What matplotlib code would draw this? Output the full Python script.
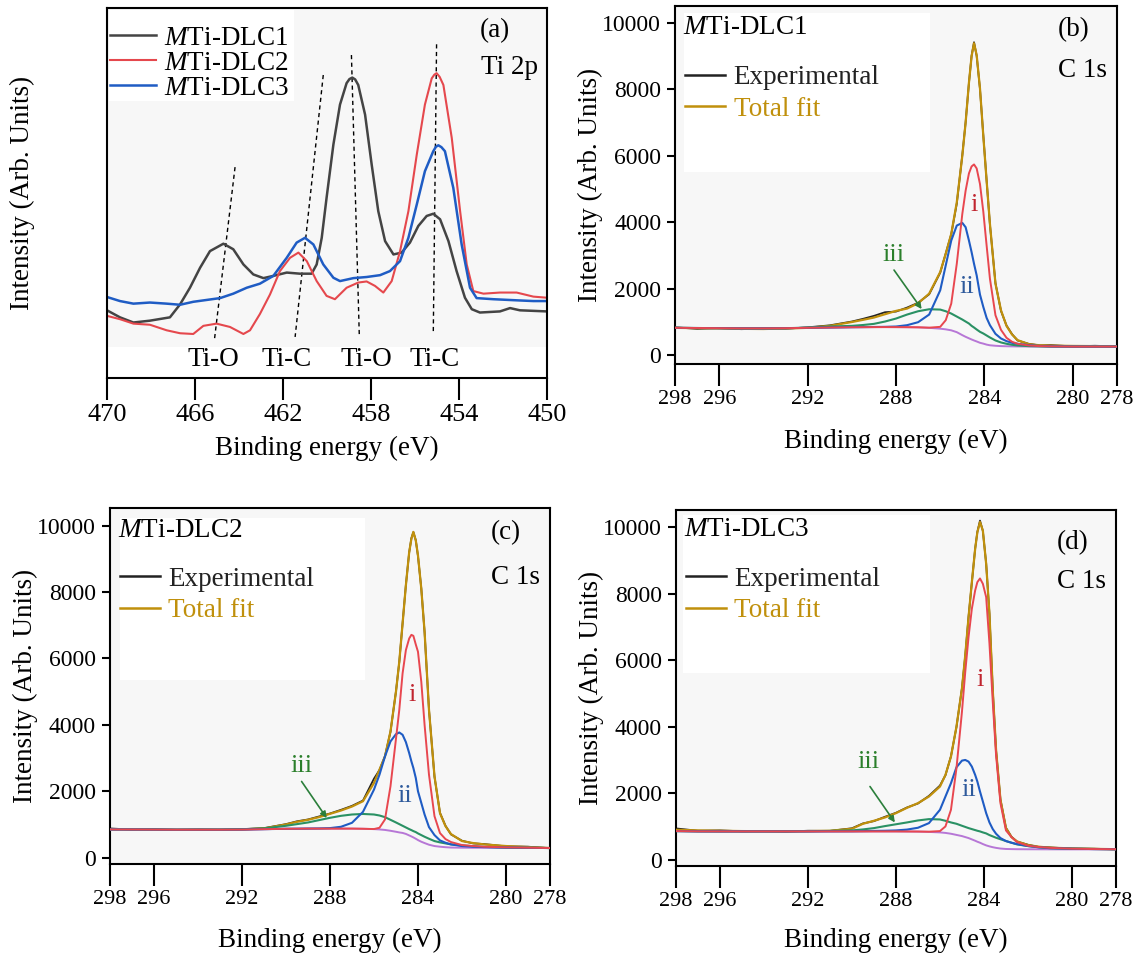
import matplotlib
matplotlib.use("Agg")
import matplotlib.pyplot as plt
from matplotlib.patches import Rectangle

plt.rcParams["font.family"] = "Liberation Serif"
plt.rcParams["mathtext.fontset"] = "custom"
plt.rcParams["mathtext.it"] = "Liberation Serif:italic"
plt.rcParams["mathtext.rm"] = "Liberation Serif"

# ---------------- panel (a): Ti 2p spectra (arb. units, 0-100) ----------------
ti_dlc1_energy = [470.0, 469.41, 468.8, 468.05, 467.14, 466.68, 466.23, 465.77, 465.32, 464.71,
                  464.26, 463.8, 463.35, 462.89, 462.44, 461.83, 461.23, 460.7, 460.47, 460.24,
                  460.02, 459.71, 459.41, 459.11, 458.98, 458.85, 458.72, 458.58, 458.27, 457.97,
                  457.67, 457.36, 456.98, 456.61, 456.23, 455.85, 455.47, 455.17, 454.86, 454.48,
                  454.11, 453.73, 453.42, 453.05, 452.14, 451.68, 451.23, 450.0]
ti_dlc1_int = [18.3, 16.4, 15.0, 15.5, 16.4, 19.9, 24.4, 29.8, 34.3, 36.3,
               34.8, 30.7, 28.0, 27.0, 27.6, 28.5, 28.2, 28.2, 30.7, 37.9,
               48.7, 63.1, 73.9, 79.7, 80.8, 81.2, 80.7, 79.2, 71.2, 57.7,
               45.1, 37.0, 33.4, 33.9, 36.6, 41.1, 43.8, 44.4, 42.9, 37.0,
               28.9, 21.7, 18.6, 17.7, 18.0, 18.9, 18.3, 18.0]

ti_dlc2_energy = [470.0, 469.41, 468.8, 468.05, 467.29, 466.68, 466.08, 465.62, 465.02, 464.41,
                  463.8, 463.5, 463.05, 462.59, 462.14, 461.68, 461.3, 460.92, 460.47, 460.02,
                  459.64, 459.11, 458.58, 458.2, 457.82, 457.44, 457.06, 456.68, 456.3, 455.92,
                  455.55, 455.24, 455.12, 455.02, 454.88, 454.71, 454.33, 453.95, 453.65, 453.35,
                  452.89, 452.14, 451.38, 450.62, 450.0]
ti_dlc2_int = [16.8, 15.9, 14.7, 14.4, 12.9, 12.1, 11.9, 14.1, 14.7, 13.8,
               11.9, 12.9, 17.3, 22.6, 28.9, 32.5, 33.9, 31.6, 26.2, 22.2,
               21.3, 24.4, 25.8, 26.1, 24.9, 23.1, 26.2, 34.3, 45.1, 60.4,
               73.9, 81.0, 82.0, 82.4, 81.4, 79.2, 64.9, 45.1, 30.7, 23.5,
               22.8, 23.1, 23.1, 22.0, 21.7]

ti_dlc3_energy = [470.0, 469.41, 468.8, 468.05, 467.29, 466.68, 466.08, 465.47, 464.86, 464.26,
                  463.65, 463.05, 462.44, 461.83, 461.38, 461.0, 460.62, 460.17, 459.71, 459.41,
                  458.8, 458.2, 457.59, 457.14, 456.68, 456.3, 455.92, 455.55, 455.17, 455.05,
                  454.94, 454.8, 454.64, 454.26, 453.88, 453.5, 453.2, 452.44, 451.38, 450.62,
                  450.0]
ti_dlc3_int = [21.9, 20.8, 20.1, 20.4, 20.1, 19.8, 20.6, 21.1, 21.6, 22.8,
               24.4, 25.5, 27.6, 32.5, 36.6, 37.9, 36.1, 30.7, 27.1, 26.2,
               27.0, 27.3, 27.8, 28.9, 31.6, 37.9, 46.9, 55.9, 61.3, 62.5,
               62.9, 62.4, 61.3, 51.4, 36.1, 24.4, 21.6, 21.3, 21.0, 20.8,
               20.8]

# dashed guide lines: (top energy, top intensity, bottom energy, bottom intensity)
guide_top_energy = [464.18, 460.17, 458.89, 455.02]
guide_top_int = [57.0, 81.9, 87.3, 90.2]
guide_bottom_energy = [465.12, 461.45, 458.53, 455.17]
guide_bottom_int = [10.2, 11.1, 11.0, 11.9]

bond_labels = ["Ti-O", "Ti-C", "Ti-O", "Ti-C"]
bond_label_energy = [465.17, 461.83, 458.2, 455.1]

# ---------------- panel (b): MTi-DLC1 C 1s ----------------
c1s_b_energy = [298, 297, 296, 295, 294, 293, 292, 291, 290, 289.5, 289, 288.5, 288, 287.5,
                287, 286.5, 286, 285.75, 285.5, 285.25, 285, 284.85, 284.7, 284.58, 284.47,
                284.35, 284.2, 284.05, 283.9, 283.75, 283.5, 283.25, 283, 282.75, 282.5,
                282, 281.5, 281, 280, 279, 278]
c1s_b_exp = [835, 790, 815, 780, 800, 795, 835, 895, 1010, 1090, 1180, 1290, 1310, 1430,
             1575, 1830, 2480, 3060, 3640, 4560, 6020, 7010, 8190, 9010, 9420, 9010, 8010,
             6620, 5260, 3930, 2170, 1330, 890, 630, 440, 340, 290, 300, 262, 280, 262]
c1s_b_fit = [820, 810, 800, 790, 785, 800, 820, 880, 995, 1060, 1130, 1230, 1330, 1400,
             1560, 1850, 2500, 3050, 3650, 4600, 6000, 7000, 8200, 9000, 9390, 9030, 8030,
             6600, 5250, 3950, 2150, 1350, 880, 620, 450, 330, 295, 285, 275, 270, 265]
c1s_b_i = [820, 815, 810, 805, 805, 810, 820, 830, 838, 840, 842, 843, 842, 840,
           836, 825, 850, 1050, 1550, 2750, 4250, 4950, 5470, 5680, 5740, 5620, 5150,
           4320, 3300, 2300, 1200, 760, 520, 400, 340, 290, 270, 262, 255, 255, 255]
c1s_b_ii = [820, 815, 810, 805, 805, 810, 820, 830, 840, 843, 846, 850, 860, 900,
            990, 1220, 1950, 2700, 3450, 3900, 3980, 3850, 3450, 3100, 2750, 2400, 1820,
            1450, 1120, 900, 640, 500, 420, 370, 340, 300, 275, 262, 255, 255, 255]
c1s_b_iii = [820, 815, 810, 805, 805, 810, 825, 860, 880, 905, 940, 1010, 1100, 1220,
             1320, 1380, 1370, 1320, 1250, 1160, 1070, 1010, 950, 880, 830, 770, 700,
             650, 590, 530, 440, 380, 340, 310, 290, 270, 262, 258, 255, 255, 255]
c1s_b_bg = [820, 815, 810, 805, 805, 810, 820, 830, 838, 840, 842, 843, 842, 840,
            835, 820, 795, 775, 745, 690, 600, 550, 505, 470, 440, 410, 370,
            345, 315, 295, 280, 270, 265, 262, 260, 258, 257, 256, 255, 255, 255]

# ---------------- panel (c): MTi-DLC2 C 1s ----------------
c1s_c_energy = [298, 297, 296, 295, 294, 293, 292, 291, 290, 289.5, 289, 288.5, 288, 287.5,
                287, 286.5, 286, 285.75, 285.5, 285.25, 285, 284.85, 284.7, 284.55, 284.4,
                284.3, 284.21, 284.1, 284, 283.85, 283.7, 283.5, 283.25, 283, 282.75, 282.5,
                282, 281.5, 281, 280, 279, 278]
c1s_c_exp = [880, 845, 860, 835, 850, 840, 860, 890, 1010, 1095, 1150, 1240, 1330, 1440,
             1560, 1720, 2380, 2640, 3060, 3790, 5010, 5890, 7060, 8210, 9190, 9620, 9800,
             9560, 9080, 8110, 6790, 4460, 2440, 1350, 960, 700, 510, 430, 410, 340, 330, 285]
c1s_c_fit = [860, 852, 848, 845, 845, 845, 850, 880, 1000, 1080, 1140, 1220, 1320, 1420,
             1540, 1700, 2250, 2650, 3050, 3800, 5000, 5900, 7050, 8200, 9200, 9600, 9810,
             9550, 9100, 8100, 6800, 4450, 2450, 1340, 950, 710, 500, 440, 400, 350, 320, 290]
c1s_c_i = [850, 848, 845, 842, 842, 842, 846, 858, 870, 872, 875, 875, 875, 875,
           875, 870, 862, 900, 1150, 2150, 3580, 4450, 5550, 6250, 6600, 6710, 6680,
           6420, 6200, 5300, 4000, 2500, 1250, 740, 560, 470, 380, 350, 330, 310, 300, 290]
c1s_c_ii = [850, 848, 845, 842, 842, 842, 846, 858, 870, 872, 876, 880, 890, 930,
            1050, 1380, 2050, 2500, 3050, 3500, 3720, 3770, 3700, 3480, 3150, 2900, 2700,
            2400, 2000, 1650, 1300, 920, 680, 520, 450, 400, 350, 330, 320, 305, 298, 290]
c1s_c_iii = [850, 848, 845, 842, 842, 845, 855, 880, 960, 1010, 1060, 1130, 1200, 1260,
             1300, 1316, 1300, 1270, 1220, 1140, 1060, 1010, 960, 910, 860, 830, 800,
             770, 730, 680, 630, 570, 500, 460, 430, 400, 370, 345, 325, 305, 298, 290]
c1s_c_bg = [850, 848, 845, 842, 842, 842, 846, 858, 870, 872, 875, 875, 875, 875,
            875, 870, 860, 850, 835, 810, 780, 760, 745, 715, 670, 640, 610,
            570, 530, 480, 440, 390, 350, 330, 315, 305, 300, 298, 296, 295, 292, 290]

# ---------------- panel (d): MTi-DLC3 C 1s ----------------
c1s_d_energy = [298, 297, 296, 295, 294, 293, 292, 291, 290, 289.5, 289, 288.5, 288, 287.5,
                287, 286.5, 286, 285.75, 285.5, 285.25, 285, 284.85, 284.7, 284.55, 284.4,
                284.3, 284.18, 284.05, 283.9, 283.75, 283.6, 283.45, 283.25, 283, 282.75,
                282.5, 282, 281.5, 281, 280, 279, 278]
c1s_d_exp = [940, 870, 880, 855, 860, 845, 870, 865, 945, 1090, 1160, 1290, 1410, 1570,
             1690, 1920, 2230, 2540, 3110, 3990, 5160, 6140, 7310, 8340, 9360, 9860, 10200,
             9890, 8910, 7390, 5110, 3290, 1810, 960, 690, 545, 450, 380, 370, 330, 330, 310]
c1s_d_fit = [900, 880, 870, 860, 855, 852, 860, 870, 930, 1080, 1170, 1270, 1400, 1560,
             1700, 1900, 2200, 2550, 3100, 4000, 5150, 6150, 7300, 8350, 9350, 9850, 10160,
             9900, 8900, 7400, 5100, 3300, 1800, 950, 680, 550, 440, 390, 360, 340, 325, 315]
c1s_d_i = [860, 852, 850, 850, 850, 850, 850, 850, 850, 850, 850, 850, 850, 848,
           846, 842, 860, 1000, 1500, 2750, 4450, 5650, 6700, 7550, 8100, 8350, 8460,
           8300, 7900, 6500, 4750, 3150, 1700, 880, 680, 530, 420, 380, 355, 330, 320, 315]
c1s_d_ii = [860, 852, 850, 850, 850, 850, 850, 852, 855, 860, 865, 870, 880, 905,
            960, 1100, 1500, 1900, 2300, 2780, 2980, 3000, 2950, 2800, 2550, 2350, 2050,
            1750, 1400, 1120, 920, 780, 650, 560, 510, 470, 410, 370, 350, 330, 320, 315]
c1s_d_iii = [860, 852, 850, 850, 850, 852, 856, 865, 880, 910, 950, 1010, 1065, 1120,
             1180, 1220, 1210, 1170, 1120, 1080, 1020, 985, 950, 920, 890, 870, 850,
             820, 790, 740, 700, 660, 615, 560, 510, 460, 410, 375, 345, 330, 320, 315]
c1s_d_bg = [860, 852, 850, 850, 850, 850, 850, 850, 850, 850, 850, 850, 850, 848,
            845, 835, 820, 805, 780, 745, 710, 680, 650, 610, 570, 540, 510,
            470, 430, 400, 375, 355, 335, 322, 318, 315, 313, 312, 311, 310, 310, 310]

c1s_xticks = [298, 296, 292, 288, 284, 280, 278]
c1s_yticks = [0, 2000, 4000, 6000, 8000, 10000]
ti_xticks = [470, 466, 462, 458, 454, 450]

BG_GRAY = "#f7f7f7"
GOLD = "#c0900c"
RED = "#e8474f"
BLUE = "#1f5cc4"
GREEN = "#2a9164"
PURPLE = "#b777d6"


def style_frame(ax):
    ax.set_facecolor(BG_GRAY)
    for spine in ax.spines.values():
        spine.set_linewidth(1.5)
    ax.tick_params(axis="x", direction="out", length=16, width=1.5, pad=3)
    ax.yaxis.set_label_coords(-0.163, 0.5)


def plot_c1s(ax, energy, exp, fit, comp_i, comp_ii, comp_iii, bg,
             sample, panel, ylim, white_box, text_y, title_y, legend_y,
             lab_i, lab_ii, lab_iii, arrow_from, arrow_to, xlabel_y):
    style_frame(ax)

    ax.add_patch(Rectangle(white_box[:2], white_box[2], white_box[3],
                           transform=ax.transAxes, facecolor="white",
                           edgecolor="none", zorder=0.5))

    ax.plot(energy, exp, color="#222222", lw=1.3, label="Experimental", zorder=2)
    ax.plot(energy, fit, color=GOLD, lw=1.6, label="Total fit", zorder=3)
    ax.plot(energy, bg, color=PURPLE, lw=1.4, zorder=4)
    ax.plot(energy, comp_iii, color=GREEN, lw=1.5, zorder=4)
    ax.plot(energy, comp_ii, color=BLUE, lw=1.5, zorder=4)
    ax.plot(energy, comp_i, color=RED, lw=1.4, zorder=4)

    ax.set_xlim(298, 278)
    ax.set_ylim(*ylim)
    ax.set_xticks(c1s_xticks)
    ax.set_yticks(c1s_yticks)
    ax.tick_params(axis="x", labelsize=16)
    ax.tick_params(axis="y", direction="out", length=6, width=1.5, pad=4, labelsize=17)

    ax.set_xlabel("Binding energy (eV)", fontsize=19.5)
    ax.xaxis.set_label_coords(0.5, xlabel_y)
    ax.set_ylabel("Intensity (Arb. Units)", fontsize=19.5)

    ax.text(0.018, title_y, r"$M$Ti-" + sample, transform=ax.transAxes,
            fontsize=19.5, va="center", ha="left")
    ax.text(0.866, text_y[0], panel, transform=ax.transAxes,
            fontsize=19.5, va="center", ha="left")
    ax.text(0.866, text_y[1], "C 1s", transform=ax.transAxes,
            fontsize=19.5, va="center", ha="left")

    leg = ax.legend(loc="upper left", bbox_to_anchor=(0.022, legend_y),
                    frameon=False, fontsize=19.5, handlelength=1.5,
                    handletextpad=0.3, borderpad=0, borderaxespad=0,
                    labelspacing=0.24, labelcolor="linecolor")
    for line in leg.get_lines():
        line.set_linewidth(1.8)

    ax.text(*lab_i, "i", color="#c0252f", fontsize=19, ha="center", va="center", zorder=5)
    ax.text(*lab_ii, "ii", color="#2e5a9c", fontsize=19, ha="center", va="center", zorder=5)
    ax.text(*lab_iii, "iii", color="#2b7f2b", fontsize=19, ha="center", va="center", zorder=5)
    ax.annotate("", xy=arrow_to, xytext=arrow_from,
                arrowprops=dict(arrowstyle="-|>", color="#2b7f3b", lw=1.2,
                                mutation_scale=9, shrinkA=0, shrinkB=0),
                zorder=6)


fig = plt.figure(figsize=(11.42, 9.57), dpi=100)

# ---------------- (a) ----------------
ax_a = fig.add_axes([0.0937, 0.6050, 0.3853, 0.3866])
style_frame(ax_a)
ax_a.add_patch(Rectangle((0.005, 0.75), 0.42, 0.245, transform=ax_a.transAxes,
                         facecolor="white", edgecolor="none", zorder=0.5))
ax_a.add_patch(Rectangle((0.0, 0.0), 1.0, 0.085, transform=ax_a.transAxes,
                         facecolor="white", edgecolor="none", zorder=0.5))

for i in range(len(guide_top_energy)):
    ax_a.plot([guide_top_energy[i], guide_bottom_energy[i]],
              [guide_top_int[i], guide_bottom_int[i]],
              color="black", lw=1.0, ls=(0, (3, 2.5)), zorder=1.5)

ax_a.plot(ti_dlc1_energy, ti_dlc1_int, color="#444444", lw=1.8, label=r"$M$Ti-DLC1")
ax_a.plot(ti_dlc2_energy, ti_dlc2_int, color="#e5484d", lw=1.5, label=r"$M$Ti-DLC2")
ax_a.plot(ti_dlc3_energy, ti_dlc3_int, color="#1f5cc4", lw=1.8, label=r"$M$Ti-DLC3")

for label, energy in zip(bond_labels, bond_label_energy):
    ax_a.text(energy, 5.1, label, fontsize=19.5, ha="center", va="center")

ax_a.set_xlim(470, 450)
ax_a.set_ylim(0, 100)
ax_a.set_xticks(ti_xticks)
ax_a.set_yticks([])
ax_a.tick_params(axis="x", labelsize=19)
ax_a.set_xlabel("Binding energy (eV)", fontsize=19.5)
ax_a.xaxis.set_label_coords(0.5, -0.155)
ax_a.set_ylabel("Intensity (Arb. Units)", fontsize=19.5)

ax_a.text(0.848, 0.94, "(a)", transform=ax_a.transAxes, fontsize=19.5, va="center")
ax_a.text(0.85, 0.838, "Ti 2p", transform=ax_a.transAxes, fontsize=19.5, va="center")

ax_a.legend(loc="upper left", bbox_to_anchor=(0.007, 0.952), frameon=False,
            fontsize=19.5, handlelength=1.7, handletextpad=0.3, borderpad=0,
            borderaxespad=0, labelspacing=0.0)

# ---------------- (b) ----------------
ax_b = fig.add_axes([0.5911, 0.6196, 0.3870, 0.3741])
plot_c1s(ax_b, c1s_b_energy, c1s_b_exp, c1s_b_fit, c1s_b_i, c1s_b_ii, c1s_b_iii, c1s_b_bg,
         "DLC1", "(b)", (-270, 10510), (0.02, 0.536, 0.557, 0.444),
         (0.933, 0.821), 0.94, 0.835,
         (284.47, 4518), (284.8, 2060), (288.12, 3012),
         (288.09, 2560), (286.84, 1385), -0.18)

# ---------------- (c) ----------------
ax_c = fig.add_axes([0.0963, 0.0972, 0.3853, 0.3720])
plot_c1s(ax_c, c1s_c_energy, c1s_c_exp, c1s_c_fit, c1s_c_i, c1s_c_ii, c1s_c_iii, c1s_c_bg,
         "DLC2", "(c)", (-190, 10530), (0.023, 0.517, 0.557, 0.455),
         (0.93, 0.806), 0.938, 0.835,
         (284.29, 4910), (284.59, 1846), (289.29, 2747),
         (289.29, 2295), (288.15, 1195), -0.18)

# ---------------- (d) ----------------
ax_d = fig.add_axes([0.5919, 0.0951, 0.3853, 0.3720])
plot_c1s(ax_d, c1s_d_energy, c1s_d_exp, c1s_d_fit, c1s_d_i, c1s_d_ii, c1s_d_iii, c1s_d_bg,
         "DLC3", "(d)", (-190, 10520), (0.016, 0.542, 0.561, 0.444),
         (0.907, 0.798), 0.944, 0.84,
         (284.18, 5405), (284.71, 2102), (289.26, 2952),
         (289.18, 2201), (288.05, 1120), -0.174)

fig.savefig("out.png", dpi=100, facecolor="white")
